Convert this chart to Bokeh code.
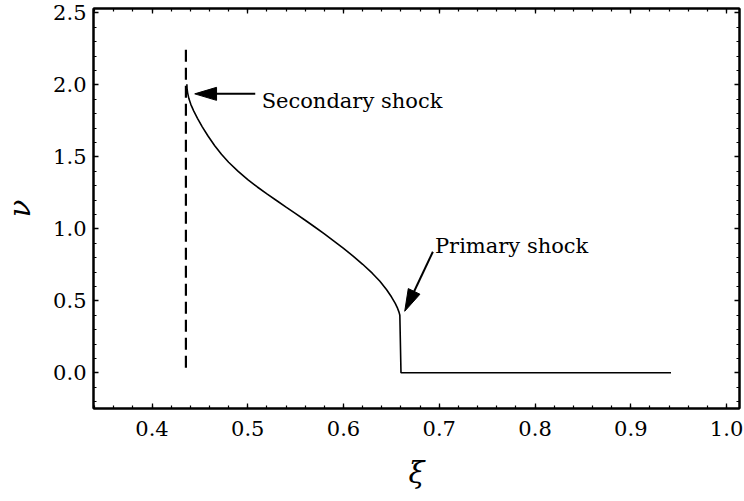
import numpy as np
from bokeh.plotting import figure
from bokeh.models import (Range1d, LinearAxis, SingleIntervalTicker,
                          PrintfTickFormatter, CustomJSTickFormatter)
from bokeh.core.properties import value
from bokeh.embed import file_html
from bokeh.resources import INLINE

# ---- data ----
xi = [0.4364, 0.4366, 0.4372, 0.4385, 0.4405, 0.4435, 0.4475, 0.4525,
      0.4585, 0.4655, 0.4725, 0.4800, 0.4900, 0.5000, 0.5100, 0.5200,
      0.5300, 0.5400, 0.5500, 0.5600, 0.5700, 0.5800, 0.5900, 0.6000,
      0.6100, 0.6200, 0.6300, 0.6380, 0.6450, 0.6500, 0.6540, 0.6565,
      0.6580, 0.6588, 0.6600, 0.9420]
nu = [2.005, 1.975, 1.945, 1.905, 1.865, 1.820, 1.768, 1.709,
      1.645, 1.578, 1.518, 1.463, 1.399, 1.342, 1.291, 1.243,
      1.197, 1.151, 1.106, 1.060, 1.013, 0.965, 0.915, 0.864,
      0.811, 0.754, 0.692, 0.636, 0.577, 0.528, 0.482, 0.447,
      0.420, 0.400, 0.000, 0.000]

secondary_xi = [0.4354, 0.4354]
secondary_nu = [2.245, 0.0]

label_text = ["Secondary shock", "Primary shock"]
label_x = [0.5145, 0.6955]
label_y = [1.888, 0.881]

arrow_tail_x = [0.5078, 0.6933]
arrow_tail_y = [1.938, 0.841]
arrow_tip_x = [0.4446, 0.6639]
arrow_tip_y = [1.938, 0.4276]

X_RANGE = (0.3389, 1.0135)
Y_RANGE = (-0.248, 2.531)

# ---- layout ----
W, H = 744, 501
MB_L, MB_R, MB_T, MB_B = 88, 5, 8, 93
FRAME_W = W - MB_L - MB_R
FRAME_H = H - MB_T - MB_B

SERIF = "DejaVu Serif"

p = figure(width=W, height=H, x_range=Range1d(*X_RANGE), y_range=Range1d(*Y_RANGE),
           output_backend="svg", toolbar_location=None,
           min_border_left=MB_L, min_border_right=MB_R,
           min_border_top=MB_T, min_border_bottom=MB_B,
           x_axis_label="ξ", y_axis_label="ν")
p.grid.visible = False
p.outline_line_color = "black"
p.outline_line_width = 2
p.background_fill_color = "white"
p.border_fill_color = "white"

top = LinearAxis()
right = LinearAxis()
p.add_layout(top, "above")
p.add_layout(right, "right")


def style(ax, interval, labels):
    ax.ticker = SingleIntervalTicker(interval=interval, num_minor_ticks=5)
    ax.axis_line_color = "black"
    ax.axis_line_width = 2
    ax.major_tick_in = 5
    ax.major_tick_out = 0
    ax.minor_tick_in = 3
    ax.minor_tick_out = 0
    ax.major_tick_line_width = 1.3
    ax.minor_tick_line_width = 1.2
    ax.major_tick_line_color = "black"
    ax.minor_tick_line_color = "black"
    if labels:
        ax.formatter = PrintfTickFormatter(format="%.1f")
        ax.major_label_text_font = SERIF
        ax.major_label_text_font_size = "21px"
        ax.major_label_text_color = "black"
        ax.axis_label_text_font = SERIF
        ax.axis_label_text_font_size = "29px"
        ax.axis_label_text_font_style = "italic"
        ax.axis_label_text_color = "black"
    else:
        ax.formatter = CustomJSTickFormatter(code="return ''")
        ax.major_label_text_font_size = "0px"
        ax.major_label_standoff = 0
        ax.axis_label_standoff = 0


bottom = p.below[0]
left = p.left[0]
style(bottom, 0.1, True)
style(top, 0.1, False)
style(left, 0.5, True)
style(right, 0.5, False)
bottom.major_label_standoff = 12
bottom.axis_label_standoff = 17
left.major_label_standoff = 7
left.axis_label_standoff = 13

# ---- curves ----
p.line(xi, nu, line_color="black", line_width=1.6)
p.line(secondary_xi, secondary_nu, line_color="black", line_width=2.2, line_dash="12 6")

# ---- annotations: arrows with filled triangular heads ----
sx = FRAME_W / (X_RANGE[1] - X_RANGE[0])
sy = FRAME_H / (Y_RANGE[1] - Y_RANGE[0])
HEAD_L, HEAD_W = 22.0, 13.0
shaft_xs, shaft_ys, head_xs, head_ys = [], [], [], []
for tx, ty, hx, hy in zip(arrow_tail_x, arrow_tail_y, arrow_tip_x, arrow_tip_y):
    tail = np.array([tx * sx, ty * sy])
    tip = np.array([hx * sx, hy * sy])
    d = tip - tail
    d = d / np.hypot(*d)
    n = np.array([-d[1], d[0]])
    base = tip - d * HEAD_L
    pts = [tip, base + n * HEAD_W / 2, base - n * HEAD_W / 2]
    head_xs.append([q[0] / sx for q in pts])
    head_ys.append([q[1] / sy for q in pts])
    shaft_end = tip - d * (HEAD_L - 2)
    shaft_xs.append([tail[0] / sx, shaft_end[0] / sx])
    shaft_ys.append([tail[1] / sy, shaft_end[1] / sy])

p.multi_line(shaft_xs, shaft_ys, line_color="black", line_width=2)
p.patches(head_xs, head_ys, fill_color="black", line_color="black", line_width=1)

p.text(x=label_x, y=label_y, text=label_text, text_font=value(SERIF),
       text_font_size="21px", text_align="left", text_baseline="alphabetic",
       text_color="black")

open("out.html", "w").write(file_html(p, INLINE))
